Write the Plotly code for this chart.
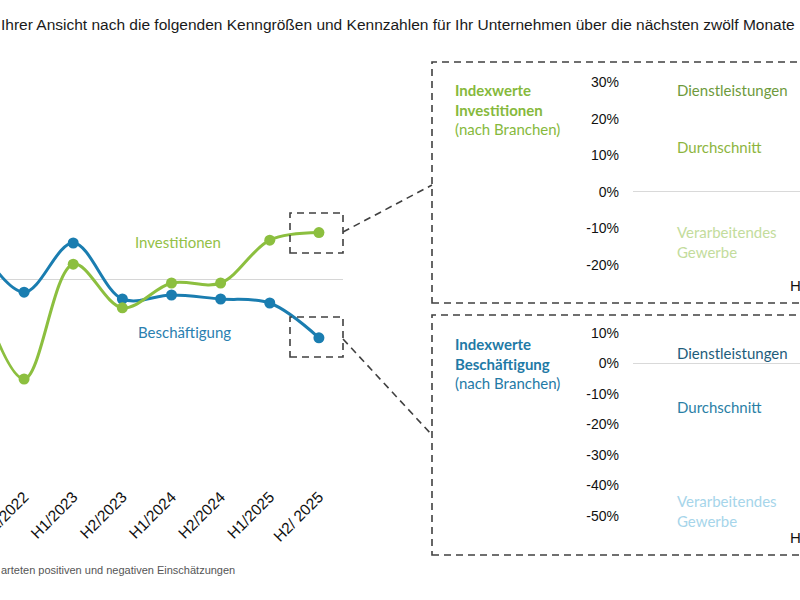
import plotly.graph_objects as go

# ---------------- data ----------------
halbjahre = ["H1/2022", "H2/2022", "H1/2023", "H2/2023", "H1/2024", "H2/2024", "H1/2025", "H2/ 2025"]
beschaeftigung = [10.0, -3.3, 9.0, -5.0, -4.0, -5.0, -6.0, -14.7]
investitionen = [0.0, -25.0, 3.7, -7.2, -1.0, -1.0, 9.7, 11.6]

inv_ticks = [30, 20, 10, 0, -10, -20]
inv_ticktext = ["30%", "20%", "10%", "0%", "-10%", "-20%"]
bes_ticks = [10, 0, -10, -20, -30, -40, -50]
bes_ticktext = ["10%", "0%", "-10%", "-20%", "-30%", "-40%", "-50%"]

title_text = "Ihrer Ansicht nach die folgenden Kenngrößen und Kennzahlen für Ihr Unternehmen über die nächsten zwölf Monate"
footnote_text = "arteten positiven und negativen Einschätzungen"

BLUE = "#1a7db0"
GREEN = "#8cbf3f"
W, H = 800, 600


def X(px):
    return px / W


def Y(py):
    return 1 - py / H


fig = go.Figure()

fig.add_trace(go.Scatter(
    x=halbjahre, y=beschaeftigung, mode="lines+markers",
    line=dict(color=BLUE, width=3, shape="spline", smoothing=1.0),
    marker=dict(color=BLUE, size=11), showlegend=False, hoverinfo="skip"))
fig.add_trace(go.Scatter(
    x=halbjahre, y=investitionen, mode="lines+markers",
    line=dict(color=GREEN, width=3, shape="spline", smoothing=1.0),
    marker=dict(color=GREEN, size=11), showlegend=False, hoverinfo="skip"))

# empty traces to hold the inset subplots
fig.add_trace(go.Scatter(x=[], y=[], xaxis="x2", yaxis="y2", showlegend=False))
fig.add_trace(go.Scatter(x=[], y=[], xaxis="x3", yaxis="y3", showlegend=False))

# main plot geometry: zero at y=279px, 4px per 1%
top_px, bot_px, zero_px, ppu = 60, 484, 279, 4.0
fig.update_layout(
    template="none",
    width=W, height=H, margin=dict(l=0, r=0, t=0, b=0, autoexpand=False),
    paper_bgcolor="white", plot_bgcolor="white",
    font=dict(family="Liberation Sans, Arial, sans-serif", color="#000"),
    xaxis=dict(domain=[0, X(343)], type="category", categoryorder="array",
               categoryarray=halbjahre, range=[0.51, 7.49], automargin=False,
               showgrid=False, zeroline=False, showline=False, ticks="",
               tickangle=-45, tickfont=dict(size=15.5, color="#111",
                                            family="Liberation Sans, Arial, sans-serif")),
    yaxis=dict(domain=[Y(bot_px), Y(top_px)], automargin=False,
               range=[(zero_px - bot_px) / ppu, (zero_px - top_px) / ppu],
               showgrid=False, showticklabels=False, ticks="", showline=False,
               zeroline=True, zerolinecolor="#d6d6d6", zerolinewidth=1),
)

# inset 1 (Investitionen): zero at 191.7px, 3.65px per 1%
i1_top, i1_bot, i1_zero, i1_ppu = 66, 276, 191.7, 3.65
# inset 2 (Beschäftigung): zero at 363.3px, 3.05px per 1%
i2_top, i2_bot, i2_zero, i2_ppu = 322, 528, 363.3, 3.05

fig.update_layout(
    xaxis2=dict(domain=[X(633), 1], range=[0, 1], anchor="y2", visible=False, automargin=False),
    yaxis2=dict(domain=[Y(i1_bot), Y(i1_top)], anchor="x2", automargin=False,
                range=[(i1_zero - i1_bot) / i1_ppu, (i1_zero - i1_top) / i1_ppu],
                tickvals=inv_ticks, ticktext=inv_ticktext, showgrid=False,
                zeroline=True, zerolinecolor="#d9d9d9", zerolinewidth=1,
                ticks="", ticklabelstandoff=13, showline=False,
                tickfont=dict(size=14, color="#111")),
    xaxis3=dict(domain=[X(633), 1], range=[0, 1], anchor="y3", visible=False, automargin=False),
    yaxis3=dict(domain=[Y(i2_bot), Y(i2_top)], anchor="x3", automargin=False,
                range=[(i2_zero - i2_bot) / i2_ppu, (i2_zero - i2_top) / i2_ppu],
                tickvals=bes_ticks, ticktext=bes_ticktext, showgrid=False,
                zeroline=True, zerolinecolor="#d9d9d9", zerolinewidth=1,
                ticks="", ticklabelstandoff=13, showline=False,
                tickfont=dict(size=14, color="#111")),
)

DASH = dict(color="#404040", width=1.6, dash="7px,5px")
shapes = [
    # inset frames
    dict(type="rect", xref="paper", yref="paper", x0=X(432), x1=X(830), y0=Y(303), y1=Y(62),
         line=DASH),
    dict(type="rect", xref="paper", yref="paper", x0=X(432), x1=X(830), y0=Y(555), y1=Y(315),
         line=DASH),
    # small boxes on the main chart
    dict(type="rect", xref="paper", yref="paper", x0=X(290), x1=X(343), y0=Y(253), y1=Y(213),
         line=DASH),
    dict(type="rect", xref="paper", yref="paper", x0=X(290), x1=X(343), y0=Y(357), y1=Y(317),
         line=DASH),
    # connectors
    dict(type="line", xref="paper", yref="paper", x0=X(343), y0=Y(232), x1=X(432), y1=Y(185),
         line=DASH),
    dict(type="line", xref="paper", yref="paper", x0=X(343), y0=Y(339), x1=X(432), y1=Y(435),
         line=DASH),
]
fig.update_layout(shapes=shapes)

LATO = "Lato, Open Sans, sans-serif"
ann = []


def txt(text, x, y, color, size=15, family=LATO, xanchor="left", yanchor="middle", align="left"):
    ann.append(dict(text=text, x=X(x), y=Y(y), xref="paper", yref="paper", showarrow=False,
                    xanchor=xanchor, yanchor=yanchor, align=align,
                    font=dict(size=size, color=color, family=family)))


# title and footnote
txt(title_text, -1, 24, "#1a1a1a", size=15.5,
    family="Liberation Sans, Arial, sans-serif")
txt(footnote_text, -1, 570, "#555555", size=11, family="Liberation Sans, Arial, sans-serif")

# main chart series labels
txt("Investitionen", 178, 242, "#93c047", size=15, xanchor="center")
txt("Beschäftigung", 184, 332, "#2a80b0", size=15, xanchor="center")

# inset 1 labels
txt("<b>Indexwerte<br>Investitionen</b><br>(nach Branchen)", 453, 79, "#86b93c",
    size=15, yanchor="top")
txt("Dienstleistungen", 675, 90, "#6e9a3c")
txt("Durchschnitt", 675, 147, "#8db53e")
txt("Verarbeitendes<br>Gewerbe", 675, 242, "#c3dc9c")
txt("H2/2025", 788, 285, "#111", size=15, family="Liberation Sans, Arial, sans-serif")

# inset 2 labels
txt("<b>Indexwerte<br>Beschäftigung</b><br>(nach Branchen)", 453, 333, "#1f7aa6",
    size=15, yanchor="top")
txt("Dienstleistungen", 675, 353, "#1e5d7b")
txt("Durchschnitt", 675, 407, "#2a7fa6")
txt("Verarbeitendes<br>Gewerbe", 675, 511, "#a6d5ea")
txt("H2/2025", 788, 537, "#111", size=15, family="Liberation Sans, Arial, sans-serif")

fig.update_layout(annotations=ann)

fig.write_html("out.html", config={"displayModeBar": False},
               post_script="document.body.style.margin='0';document.body.style.overflow='hidden';")
